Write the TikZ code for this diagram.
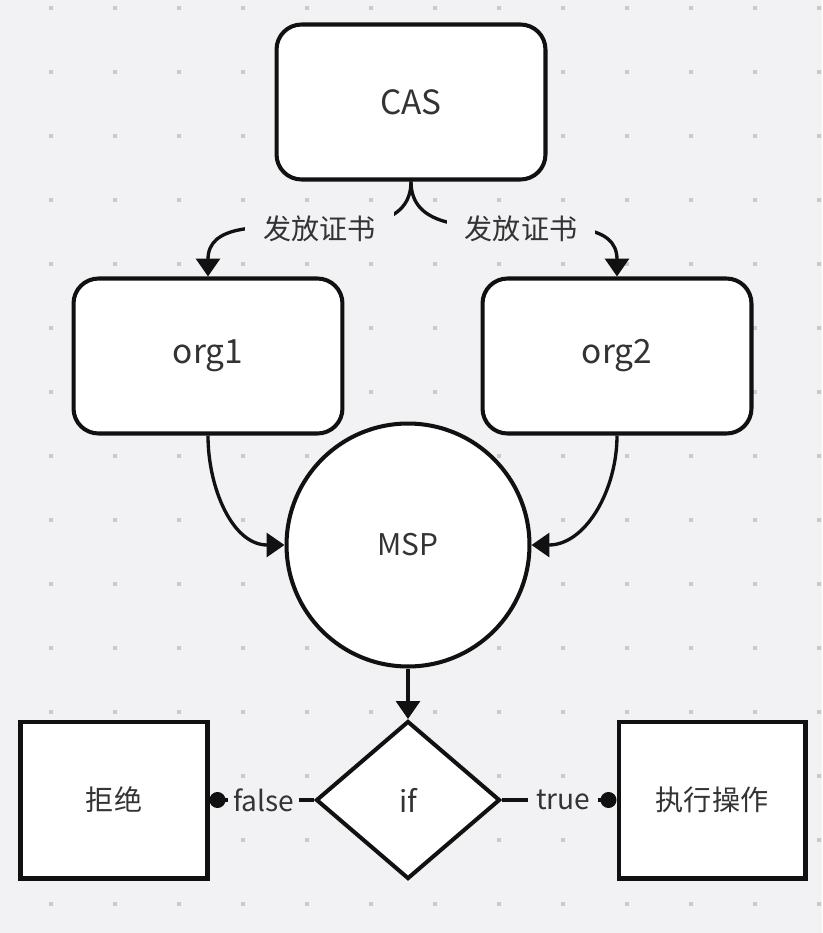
\documentclass[tikz,border=0pt]{standalone}
\usepackage{fontspec}
\setmainfont{Noto Sans CJK SC}
\usepackage{tikz}
\usetikzlibrary{shapes.geometric,arrows.meta}

\definecolor{bg}{HTML}{F2F2F4}
\definecolor{griddot}{HTML}{CACACA}
\definecolor{ink}{HTML}{111111}
\definecolor{txt}{HTML}{333333}

\tikzset{
	rbox/.style={draw=ink, fill=white, line width=2.3pt, rounded corners=0.5cm,
		minimum width=5.38cm, minimum height=3.1cm, text=txt,
		font=\fontsize{19}{22}\selectfont},
	sbox/.style={draw=ink, fill=white, line width=2.3pt,
		minimum width=3.74cm, minimum height=3.14cm, text=txt,
		font=\fontsize{16}{19}\selectfont},
	conn/.style={draw=ink, line width=1.9pt, -{Triangle[length=0.36cm,width=0.48cm]}},
	dotconn/.style={draw=ink, line width=1.9pt, -{Circle[length=0.32cm]}},
	lbl/.style={fill=bg, text=txt, inner xsep=0.36cm, inner ysep=2pt,
		font=\fontsize{16}{19}\selectfont},
}

\begin{document}
\begin{tikzpicture}[x=0.02cm,y=-0.02cm]
	\fill[bg] (0,0) rectangle (822,933);
	% grid
	\foreach \x in {51,115,...,819}{
		\foreach \y in {8,72,...,904}{
			\fill[griddot] (\x-2,\y-2) rectangle (\x+2,\y+2);
		}
	}
	
	\node[rbox] (cas) at (411,102) {CAS};
	\foreach \x/\y in
	{org1/208, org2/617}{
		\node[rbox] (\x) at (\y,356) {\x};
	}
	\node[circle, draw=ink, fill=white, line width=2.3pt, minimum size=4.86cm,
		text=txt, font=\fontsize{17}{20}\selectfont] (msp) at (408,545) {MSP};
	\node[diamond, draw=ink, fill=white, line width=2.3pt, inner sep=0pt,
		minimum width=3.68cm, minimum height=3.16cm, text=txt,
		font=\fontsize{17}{20}\selectfont] (cond) at (408,800) {if};
	\node[sbox] (reject) at (114,800) {拒绝};
	\node[sbox] (exec) at (712,800) {执行操作};
	
	% certificates
	\foreach \x/\s in {org1/0.2cm, org2/0.14cm}{
		\draw[conn] (cas.south) to[out=-90,in=90] node[lbl, xshift=\s]{发放证书} (\x.north);
	}
	\draw[conn] (org1.south) to[out=-90,in=180] (msp.west);
	\draw[conn] (org2.south) to[out=-90,in=0] (msp.east);
	\draw[conn] (msp.south) -- (cond.north);
	
	% branches
	\draw[dotconn] (cond.west) -- node[lbl, inner xsep=0.1cm, xshift=0.04cm]{false} (reject.east);
	\draw[dotconn] (cond.east) -- node[lbl, inner xsep=0.16cm, xshift=0.08cm]{true} (exec.west);
\end{tikzpicture}
\end{document}
